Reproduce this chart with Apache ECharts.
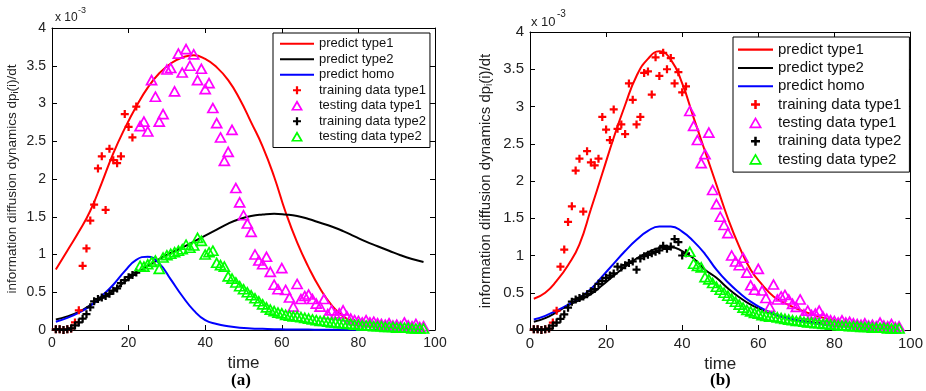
<!DOCTYPE html>
<html><head><meta charset="utf-8">
<script src="https://cdn.jsdelivr.net/npm/echarts@6/dist/echarts.min.js"></script>
<style>html,body{margin:0;padding:0;background:#fff}#c{width:926px;height:391px}</style>
</head><body><div id="c"></div>
<script>
// ---- data (values in units of 1e-3) ----
const days = [1,2,3,4,5,6,7,8,9,10,11,12,13,14,15,16,17,18,19,20,21,22,23,24,25,26,27,28,29,30,31,32,33,34,35,36,37,38,39,40,41,42,43,44,45,46,47,48,49,50,51,52,53,54,55,56,57,58,59,60,61,62,63,64,65,66,67,68,69,70,71,72,73,74,75,76,77,78,79,80,81,82,83,84,85,86,87,88,89,90,91,92,93,94,95,96,97];
const type1Obs = [0.01,0.01,0.0,0.01,0.02,0.10,0.26,0.85,1.08,1.45,1.66,2.14,2.30,1.59,2.40,2.25,2.21,2.30,2.86,2.69,2.55,2.96,2.70,2.76,2.63,3.31,3.09,2.76,2.86,3.45,3.47,3.16,3.66,3.41,3.72,3.50,3.65,3.31,3.46,3.19,3.27,2.94,2.74,2.55,2.24,2.36,2.65,1.88,1.69,1.52,1.41,1.30,1.00,0.92,0.87,0.97,0.77,0.60,0.54,0.82,0.53,0.43,0.31,0.61,0.41,0.45,0.47,0.41,0.35,0.31,0.41,0.21,0.26,0.20,0.22,0.26,0.18,0.15,0.13,0.12,0.10,0.13,0.10,0.11,0.09,0.08,0.07,0.09,0.06,0.07,0.05,0.10,0.06,0.05,0.08,0.04,0.05];
const type2Obs = [0.01,0.01,0.0,0.01,0.02,0.06,0.10,0.15,0.21,0.30,0.38,0.41,0.43,0.45,0.48,0.52,0.55,0.62,0.66,0.70,0.73,0.76,0.85,0.84,0.87,0.90,0.92,0.81,0.96,0.99,1.01,1.03,1.05,1.07,1.13,1.09,1.12,1.22,1.18,1.00,1.03,1.05,0.89,0.86,0.84,0.71,0.68,0.63,0.58,0.54,0.50,0.46,0.42,0.38,0.34,0.30,0.27,0.25,0.23,0.22,0.20,0.19,0.18,0.18,0.17,0.16,0.15,0.14,0.13,0.12,0.12,0.11,0.10,0.10,0.09,0.09,0.08,0.08,0.07,0.07,0.06,0.06,0.06,0.05,0.05,0.05,0.04,0.04,0.04,0.03,0.03,0.03,0.03,0.02,0.02,0.02,0.02];
const trainDaysA = 22;   // days used for training in panel (a)
const trainDaysB = 41;   // days used for training in panel (b)

const curveX = [1,4,7,10,13,16,19,22,25,28,31,34,37,40,43,46,49,52,55,58,61,64,67,70,73,76,79,82,85,88,91,94,97];
const predA_type1 = [0.80,1.05,1.30,1.58,1.95,2.34,2.67,2.96,3.21,3.40,3.53,3.61,3.64,3.59,3.48,3.31,3.06,2.75,2.43,2.03,1.56,1.16,0.83,0.55,0.33,0.18,0.10,0.06,0.04,0.03,0.02,0.02,0.01];
const predA_type2 = [0.14,0.18,0.24,0.33,0.42,0.52,0.64,0.75,0.85,0.94,1.02,1.09,1.17,1.25,1.33,1.41,1.47,1.51,1.53,1.54,1.53,1.51,1.47,1.42,1.37,1.31,1.24,1.17,1.11,1.05,0.99,0.94,0.90];
const predA_homo  = [0.11,0.16,0.23,0.32,0.45,0.60,0.78,0.93,0.97,0.88,0.67,0.45,0.26,0.13,0.08,0.05,0.03,0.02,0.015,0.01,0.008,0.006,0.005,0.004,0.003,0.002,0.002,0.001,0.001,0.001,0.001,0.001,0.001];
const predB_type1 = [0.42,0.50,0.66,0.87,1.15,1.62,2.10,2.58,3.02,3.41,3.64,3.74,3.63,3.31,2.85,2.40,1.95,1.50,1.12,0.81,0.61,0.45,0.36,0.29,0.23,0.18,0.14,0.11,0.08,0.06,0.05,0.04,0.03];
const predB_type2 = [0.11,0.16,0.24,0.33,0.40,0.48,0.60,0.73,0.85,0.96,1.04,1.10,1.11,1.06,0.96,0.81,0.70,0.56,0.44,0.34,0.27,0.21,0.17,0.13,0.11,0.09,0.07,0.06,0.05,0.04,0.03,0.03,0.02];
const predB_homo  = [0.14,0.19,0.26,0.34,0.43,0.55,0.72,0.89,1.06,1.21,1.33,1.39,1.39,1.32,1.19,1.02,0.81,0.64,0.50,0.38,0.29,0.22,0.17,0.13,0.10,0.08,0.06,0.05,0.04,0.03,0.02,0.02,0.02];

const xTicks = [0,20,40,60,80,100];
const yTicks = [0,0.5,1,1.5,2,2.5,3,3.5,4];
const seriesNames = ['predict type1','predict type2','predict homo','training data type1','testing data type1','training data type2','testing data type2'];
const yName = 'information diffusion dynamics dp{s|i}(i)/dt';

// ---- styles ----
const RED='#ff0000', BLACK='#000000', BLUE='#0000ff', MAG='#ff00ff', GREEN='#00ff00';
const linePath = 'path://M0,0H34V2H0Z';
const plusPath = 'path://M3.6,0H6.4V3.6H10V6.4H6.4V10H3.6V6.4H0V3.6H3.6Z';
const triPath = 'path://M5,0L10,8.7H0Z';
const FONT = 'Liberation Sans, Arial, Helvetica, sans-serif';

const pairs = (xs, ys) => xs.map((x, i) => [x, ys[i]]);

function panelAxes(gi, labelSize, nameSize, xNameGap, yNameGap, yNameSize) {
  const common = {
    gridIndex: gi, type: 'value',
    axisLine: {show: true, onZero: false, lineStyle: {color: '#000', width: 1}},
    axisTick: {show: true, inside: true, length: 5, lineStyle: {color: '#000', width: 1}},
    splitLine: {show: false}
  };
  const x = Object.assign({}, common, {
    min: xTicks[0], max: xTicks[xTicks.length-1], interval: xTicks[1]-xTicks[0]
  });
  const y = Object.assign({}, common, {
    min: yTicks[0], max: yTicks[yTicks.length-1], interval: yTicks[1]-yTicks[0]
  });
  return {
    xs: [
      Object.assign({}, x, {position: 'bottom',
        axisLabel: {fontSize: labelSize, color: '#222', margin: 6, fontFamily: FONT},
        name: 'time', nameLocation: 'middle', nameGap: xNameGap,
        nameTextStyle: {fontSize: nameSize, color: '#222', fontFamily: FONT}}),
      Object.assign({}, x, {position: 'top', axisLabel: {show: false}})
    ],
    ys: [
      Object.assign({}, y, {position: 'left',
        axisLabel: {fontSize: labelSize, color: '#222', margin: 6, fontFamily: FONT},
        name: yName, nameLocation: 'middle', nameGap: yNameGap,
        nameTextStyle: {fontSize: yNameSize, color: '#222', fontFamily: FONT,
          rich: {s: {fontSize: Math.round(yNameSize*0.65), color: '#222', fontFamily: FONT, verticalAlign: 'bottom', padding: [6,0,0,0]}}}}),
      Object.assign({}, y, {position: 'right', axisLabel: {show: false}})
    ]
  };
}

const axA = panelAxes(0, 14, 17, 19, 32, 13.5);
const axB = panelAxes(1, 15, 17, 22, 36, 15);

function lineSeries(name, xi, yi, ys, color) {
  return {name, type: 'line', xAxisIndex: xi, yAxisIndex: yi, data: pairs(curveX, ys),
    smooth: 0.5, symbol: 'none', lineStyle: {color, width: 2}, itemStyle: {color}, z: 2};
}
function plusSeries(name, xi, yi, xs, ys, color) {
  return {name, type: 'scatter', xAxisIndex: xi, yAxisIndex: yi, data: pairs(xs, ys),
    symbol: plusPath, symbolSize: 8, itemStyle: {color, opacity: 1}, z: 3};
}
function triSeries(name, xi, yi, xs, ys, color) {
  return {name, type: 'scatter', xAxisIndex: xi, yAxisIndex: yi, data: pairs(xs, ys),
    symbol: triPath, symbolSize: [10, 9], itemStyle: {color: 'transparent', borderColor: color, borderWidth: 1.7, opacity: 1}, z: 4};
}

function panelSeries(xi, yi, split, p1, p2, ph) {
  return [
    lineSeries(seriesNames[0], xi, yi, p1, RED),
    lineSeries(seriesNames[1], xi, yi, p2, BLACK),
    lineSeries(seriesNames[2], xi, yi, ph, BLUE),
    plusSeries(seriesNames[3], xi, yi, days.slice(0, split), type1Obs.slice(0, split), RED),
    triSeries(seriesNames[4], xi, yi, days.slice(split), type1Obs.slice(split), MAG),
    plusSeries(seriesNames[5], xi, yi, days.slice(0, split), type2Obs.slice(0, split), BLACK),
    triSeries(seriesNames[6], xi, yi, days.slice(split), type2Obs.slice(split), GREEN)
  ];
}

function legendData() {
  return [
    {name: seriesNames[0], icon: linePath, itemStyle: {color: RED}},
    {name: seriesNames[1], icon: linePath, itemStyle: {color: BLACK}},
    {name: seriesNames[2], icon: linePath, itemStyle: {color: BLUE}},
    {name: seriesNames[3], icon: plusPath, itemStyle: {color: RED}},
    {name: seriesNames[4], icon: triPath, itemStyle: {color: 'transparent', borderColor: MAG, borderWidth: 1.7}},
    {name: seriesNames[5], icon: plusPath, itemStyle: {color: BLACK}},
    {name: seriesNames[6], icon: triPath, itemStyle: {color: 'transparent', borderColor: GREEN, borderWidth: 1.7}}
  ];
}

const option = {
  animation: false,
  backgroundColor: '#fff',
  textStyle: {fontFamily: FONT},
  grid: [
    {left: 52, top: 28, width: 383, height: 302},
    {left: 530, top: 32, width: 383, height: 298}
  ],
  xAxis: [axA.xs[0], axA.xs[1], axB.xs[0], axB.xs[1]],
  yAxis: [axA.ys[0], axA.ys[1], axB.ys[0], axB.ys[1]],
  legend: [
    {left: 273, top: 33, orient: 'vertical', selectedMode: false, symbolKeepAspect: true,
     backgroundColor: '#fff', borderColor: '#000', borderWidth: 1, padding: [3, 4, 3, 7],
     itemGap: 0, itemWidth: 34, itemHeight: 8,
     textStyle: {fontSize: 13, lineHeight: 15.5, color: '#111', fontFamily: FONT},
     data: legendData()},
    {left: 733, top: 37, orient: 'vertical', selectedMode: false, symbolKeepAspect: true,
     backgroundColor: '#fff', borderColor: '#000', borderWidth: 1, padding: [3.5, 8, 3.5, 5],
     itemGap: 0, itemWidth: 35, itemHeight: 9,
     textStyle: {fontSize: 15, lineHeight: 18.3, color: '#111', fontFamily: FONT},
     data: legendData()}
  ],
  graphic: [
    {type: 'text', left: 55, top: 12, style: {text: 'x 10', fontSize: 12, fill: '#222', font: '12px ' + FONT}},
    {type: 'text', left: 78, top: 6, style: {text: '-3', fontSize: 9, fill: '#222', font: '9px ' + FONT}},
    {type: 'text', left: 531, top: 16, style: {text: 'x 10', fontSize: 13, fill: '#222', font: '13px ' + FONT}},
    {type: 'text', left: 557, top: 9, style: {text: '-3', fontSize: 10, fill: '#222', font: '10px ' + FONT}},
    {type: 'text', left: 231, top: 372, style: {text: '(a)', font: 'bold 17px Liberation Serif, Times New Roman, serif', fill: '#000'}},
    {type: 'text', left: 710, top: 372, style: {text: '(b)', font: 'bold 17px Liberation Serif, Times New Roman, serif', fill: '#000'}}
  ],
  series: [].concat(
    panelSeries(0, 0, trainDaysA, predA_type1, predA_type2, predA_homo),
    panelSeries(2, 2, trainDaysB, predB_type1, predB_type2, predB_homo)
  )
};

const chart = echarts.init(document.getElementById('c'), null, {renderer: 'canvas'});
chart.setOption(option);
</script>
</body></html>
